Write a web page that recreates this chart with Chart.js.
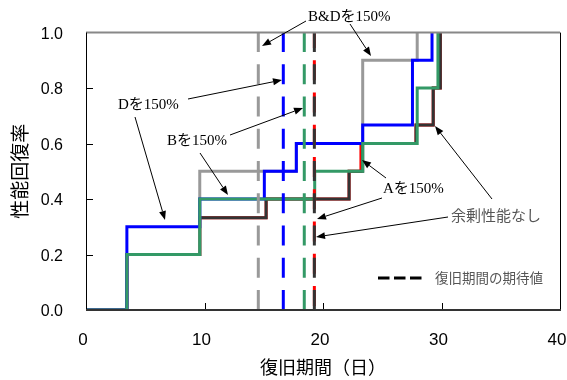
<!DOCTYPE html>
<html>
<head>
<meta charset="utf-8">
<script src="https://cdn.jsdelivr.net/npm/chart.js@4/dist/chart.umd.min.js"></script>
<style>
  html, body { margin: 0; padding: 0; background: #fff; }
  canvas { display: block; }
</style>
</head>
<body>
<canvas id="c" width="567" height="380"></canvas>
<script>
// ---- data (days, recovery rate) ----
const xTitle = '復旧期間（日）';
const yTitle = '性能回復率';
const legendText = '復旧期間の期待値';
const xTicks = [0, 10, 20, 30, 40];
const yTicks = [0, 0.2, 0.4, 0.6, 0.8, 1.0];

const noSurplusDays = [0, 3.45, 9.6, 15.2, 22.2, 23.35, 27.85, 29.3, 29.9];
const noSurplusRate = [0, 0.2, 0.333, 0.4, 0.5, 0.6, 0.667, 0.8, 1.0];
const aDays = [0, 3.45, 9.6, 15.2, 22.2, 23.2, 27.85, 29.3, 29.9];
const aRate = [0, 0.2, 0.333, 0.4, 0.5, 0.6, 0.667, 0.8, 1.0];
const bDays = [0, 3.45, 9.6, 19.3, 23.35, 27.95, 29.7];
const bRate = [0, 0.2, 0.4, 0.5, 0.6, 0.8, 1.0];
const dDays = [0, 3.45, 9.6, 15.05, 17.75, 23.35, 27.55, 29.2];
const dRate = [0, 0.3, 0.4, 0.5, 0.6, 0.667, 0.9, 1.0];
const bdDays = [0, 3.45, 9.6, 17.75, 23.35, 27.95];
const bdRate = [0, 0.2, 0.5, 0.6, 0.9, 1.0];

// expected recovery period (days)
const expectedNoSurplus = 19.27;
const expectedA = 19.27;
const expectedB = 18.42;
const expectedD = 16.65;
const expectedBD = 14.54;

// ---- helpers ----
const toPts = (xs, ys) => xs.map((x, i) => ({ x: x, y: ys[i] }));
const vline = (x) => [{ x: x, y: 0 }, { x: x, y: 1 }];

const C = { dark: '#333333', red: '#ff0000', green: '#339966', blue: '#0000ff', gray: '#999999' };

function stepSet(label, pts, color) {
  return { label, data: pts, borderColor: color, borderWidth: 3, stepped: true,
    pointRadius: 0, fill: false, borderJoinStyle: 'miter', borderCapStyle: 'butt' };
}
function dashSet(label, x, color, offset) {
  return { label, data: vline(x), borderColor: color, borderWidth: 3, borderDash: [20, 12.25],
    borderDashOffset: offset || 0, pointRadius: 0, fill: false, borderCapStyle: 'butt' };
}

const datasets = [
  dashSet('期待値 余剰性能なし', expectedNoSurplus, C.dark),
  dashSet('期待値 Aを150%', expectedA, C.red, -4),
  dashSet('期待値 Bを150%', expectedB, C.green),
  dashSet('期待値 Dを150%', expectedD, C.blue),
  dashSet('期待値 B&Dを150%', expectedBD, C.gray),
  stepSet('Bを150%', toPts(bDays, bRate), C.green),
  stepSet('Dを150%', toPts(dDays, dRate), C.blue),
  stepSet('B&Dを150%', toPts(bdDays, bdRate), C.gray),
  stepSet('余剰性能なし', toPts(noSurplusDays, noSurplusRate), C.dark),
  stepSet('Aを150%', toPts(aDays, aRate), C.red)
];

function arrow(ctx, x1, y1, x2, y2) {
  ctx.save();
  ctx.strokeStyle = '#000';
  ctx.fillStyle = '#000';
  ctx.lineWidth = 1;
  const ang = Math.atan2(y2 - y1, x2 - x1);
  const len = 9, hw = 3.5;
  const bx = x2 - len * Math.cos(ang), by = y2 - len * Math.sin(ang);
  ctx.beginPath();
  ctx.moveTo(x1, y1);
  ctx.lineTo(bx, by);
  ctx.stroke();
  ctx.beginPath();
  ctx.moveTo(x2, y2);
  ctx.lineTo(bx + hw * Math.sin(ang), by - hw * Math.cos(ang));
  ctx.lineTo(bx - hw * Math.sin(ang), by + hw * Math.cos(ang));
  ctx.closePath();
  ctx.fill();
  ctx.restore();
}

const decor = {
  id: 'decor',
  afterDraw(chart) {
    const ctx = chart.ctx;
    const a = chart.chartArea;
    const xs = chart.scales.x, ys = chart.scales.y;
    ctx.save();
    // inside tick marks
    ctx.strokeStyle = '#000';
    ctx.lineWidth = 1;
    ctx.beginPath();
    yTicks.slice(1, -1).forEach(v => {
      const y = Math.round(ys.getPixelForValue(v)) + 0.5;
      ctx.moveTo(a.left, y); ctx.lineTo(a.left + 7, y);
    });
    xTicks.slice(1, -1).forEach(v => {
      const x = Math.round(xs.getPixelForValue(v)) + 0.5;
      ctx.moveTo(x, a.bottom); ctx.lineTo(x, a.bottom - 7);
    });
    ctx.stroke();
    // frame
    ctx.strokeStyle = '#888888';
    ctx.lineWidth = 2;
    ctx.beginPath(); ctx.moveTo(a.left, a.top); ctx.lineTo(a.right, a.top); ctx.stroke();
    ctx.strokeStyle = '#000';
    ctx.lineWidth = 1;
    ctx.beginPath();
    ctx.moveTo(a.right + 0.5, a.top); ctx.lineTo(a.right + 0.5, a.bottom);
    ctx.moveTo(a.left + 0.5, a.top); ctx.lineTo(a.left + 0.5, a.bottom);
    ctx.stroke();
    ctx.strokeStyle = '#333';
    ctx.lineWidth = 2;
    ctx.beginPath(); ctx.moveTo(a.left, a.bottom); ctx.lineTo(a.right + 1, a.bottom); ctx.stroke();

    // annotations
    ctx.fillStyle = '#000';
    ctx.textBaseline = 'middle';
    ctx.textAlign = 'left';
    ctx.font = '15px "Liberation Serif", "Noto Sans CJK JP", serif';
    ctx.fillText('B&Dを150%', 308, 17);
    ctx.fillText('Dを150%', 118, 105);
    ctx.fillText('Bを150%', 167, 141);
    ctx.fillText('Aを150%', 383, 189);
    ctx.fillStyle = '#555555';
    ctx.font = '15px "Noto Sans CJK JP", sans-serif';
    ctx.fillText('余剰性能なし', 451, 215);

    arrow(ctx, 306, 21, 262, 46);
    arrow(ctx, 350, 24, 371, 56);
    arrow(ctx, 188, 99, 282, 80);
    arrow(ctx, 135, 117, 165, 220);
    arrow(ctx, 230, 135, 303, 108);
    arrow(ctx, 200, 153, 228, 195);
    arrow(ctx, 386, 178, 362, 160);
    arrow(ctx, 382, 198, 317, 219);
    arrow(ctx, 448, 217, 316, 237);
    arrow(ctx, 492, 199, 435, 126);

    // legend
    ctx.strokeStyle = '#000';
    ctx.lineWidth = 3;
    ctx.setLineDash([11.5, 4.5]);
    ctx.beginPath(); ctx.moveTo(378, 278); ctx.lineTo(422, 278); ctx.stroke();
    ctx.setLineDash([]);
    ctx.fillStyle = '#555555';
    ctx.font = '13.5px "Noto Sans CJK JP", sans-serif';
    ctx.fillText(legendText, 435, 278);
    ctx.restore();
  }
};

new Chart(document.getElementById('c'), {
  type: 'line',
  data: { datasets },
  options: {
    responsive: false,
    animation: false,
    layout: { padding: { top: 31, right: 7, left: 0, bottom: 0 } },
    plugins: { legend: { display: false }, tooltip: { enabled: false } },
    scales: {
      x: {
        type: 'linear', min: 0, max: 40,
        afterBuildTicks(s) { s.ticks = xTicks.map(v => ({ value: v })); },
        ticks: { font: { family: 'Liberation Sans', size: 17 }, color: '#000', padding: 20, maxRotation: 0, labelOffset: -3 },
        grid: { display: false, drawTicks: false },
        border: { display: false },
        title: { display: true, text: xTitle, color: '#000',
          font: { family: 'Noto Sans CJK JP', size: 18 }, padding: { top: 0, bottom: 2 } },
        afterFit(s) { s.height = 70; s.paddingLeft = 0; s.paddingRight = 0; }
      },
      y: {
        min: 0, max: 1,
        afterBuildTicks(s) { s.ticks = yTicks.map(v => ({ value: v })); },
        ticks: { font: { family: 'Liberation Sans', size: 16 }, color: '#000', padding: 23, labelOffset: 2,
          callback: v => Number(v).toFixed(1) },
        grid: { display: false, drawTicks: false },
        border: { display: false },
        title: { display: true, text: yTitle, color: '#000',
          font: { family: 'Noto Sans CJK JP', size: 19 }, padding: { top: 8, bottom: 0 } },
        afterFit(s) { s.width = 86; }
      }
    }
  },
  plugins: [decor]
});
</script>
</body>
</html>
